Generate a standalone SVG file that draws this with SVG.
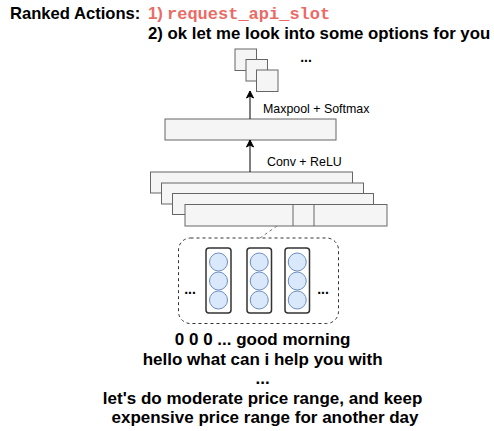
<svg xmlns="http://www.w3.org/2000/svg" width="494" height="431" viewBox="0 0 494 431">
<defs>
<style>
.t{font-family:"Liberation Sans",Arial,sans-serif;font-weight:bold;fill:#000}
.red{fill:#ea6b66}
.lbl{font-family:"Liberation Sans",Arial,sans-serif;font-size:12.4px;fill:#000}
.gr{fill:#f5f5f5;stroke:#666666;stroke-width:1}
.col{fill:#ffffff;stroke:#333333;stroke-width:1.5}
.cir{fill:#dae8fc;stroke:#6c8ebf;stroke-width:1}
.dash{fill:none;stroke:#333333;stroke-width:1;stroke-dasharray:3 3}
.edge{stroke:#000;stroke-width:1;fill:none}
</style>
<marker id="ah" markerWidth="10" markerHeight="10" refX="8" refY="5" orient="auto" markerUnits="userSpaceOnUse">
<path d="M1,1.5 L8,5 L1,8.5 L3,5 Z" fill="#000" stroke="#000"/>
</marker>
</defs>
<g id="title">
<text class="t" x="10" y="19" font-size="16.6">Ranked Actions:</text>
<text class="t red" x="148" y="19" font-size="16.8">1)</text>
<text class="red" x="167" y="19" font-family="'Liberation Mono','Courier New',monospace" font-weight="bold" font-size="17">request_api_slot</text>
<text class="t" x="148" y="38.5" font-size="16.8">2) ok let me look into some options for you</text>
</g>
<g id="outputs">
<rect class="gr" x="235" y="49" width="21.5" height="21.5"/>
<rect class="gr" x="246" y="59.5" width="21.5" height="21.5"/>
<rect class="gr" x="256.5" y="70" width="21.5" height="21.5"/>
<text class="t" x="306" y="62" font-size="14" text-anchor="middle">...</text>
</g>
<g id="pooled">
<rect class="gr" x="165" y="119" width="171" height="21"/>
</g>
<g id="convstack">
<rect class="gr" x="150.5" y="172" width="202" height="21"/>
<rect class="gr" x="161.5" y="183" width="202" height="21"/>
<rect class="gr" x="172.5" y="193.5" width="201" height="21"/>
<rect class="gr" x="185" y="204.5" width="202" height="21.5"/>
<line x1="293" y1="204.5" x2="293" y2="226" stroke="#666666"/>
<line x1="314" y1="204.5" x2="314" y2="226" stroke="#666666"/>
</g>
<g id="embeddings">
<rect class="dash" x="178.5" y="238" width="160" height="85.5" rx="12" ry="12"/>
<text class="t" x="190" y="294" font-size="14" text-anchor="middle">...</text>
<text class="t" x="323" y="294" font-size="14" text-anchor="middle">...</text>
<rect class="col" x="206" y="248" width="25" height="65" rx="3" ry="3"/>
<circle class="cir" cx="218.5" cy="262" r="9"/>
<circle class="cir" cx="218.5" cy="281" r="9"/>
<circle class="cir" cx="218.5" cy="300" r="9"/>
<rect class="col" x="247" y="248" width="24.5" height="65" rx="3" ry="3"/>
<circle class="cir" cx="259.25" cy="262" r="9"/>
<circle class="cir" cx="259.25" cy="281" r="9"/>
<circle class="cir" cx="259.25" cy="300" r="9"/>
<rect class="col" x="285" y="248" width="24.5" height="65" rx="3" ry="3"/>
<circle class="cir" cx="297.25" cy="262" r="9"/>
<circle class="cir" cx="297.25" cy="281" r="9"/>
<circle class="cir" cx="297.25" cy="300" r="9"/>
</g>
<g id="dialogue">
<text class="t" font-size="17" text-anchor="middle">
<tspan x="265" y="345">0 0 0 ... good morning</tspan>
<tspan x="265" y="364.5">hello what can i help you with</tspan>
<tspan x="265" y="384">...</tspan>
<tspan x="265" y="403.5">let's do moderate price range, and keep</tspan>
<tspan x="265" y="423">expensive price range for another day</tspan>
</text>
</g>
<g id="connectors">
<line class="edge" x1="250" y1="119" x2="250" y2="91" marker-end="url(#ah)"/>
<line class="edge" x1="250" y1="172" x2="250" y2="140" marker-end="url(#ah)"/>
<line x1="277" y1="226" x2="260" y2="238" stroke="#777777" stroke-width="1" stroke-dasharray="3 3"/>
<text class="lbl" x="263" y="113">Maxpool + Softmax</text>
<text class="lbl" x="267" y="166">Conv + ReLU</text>
</g>
</svg>
